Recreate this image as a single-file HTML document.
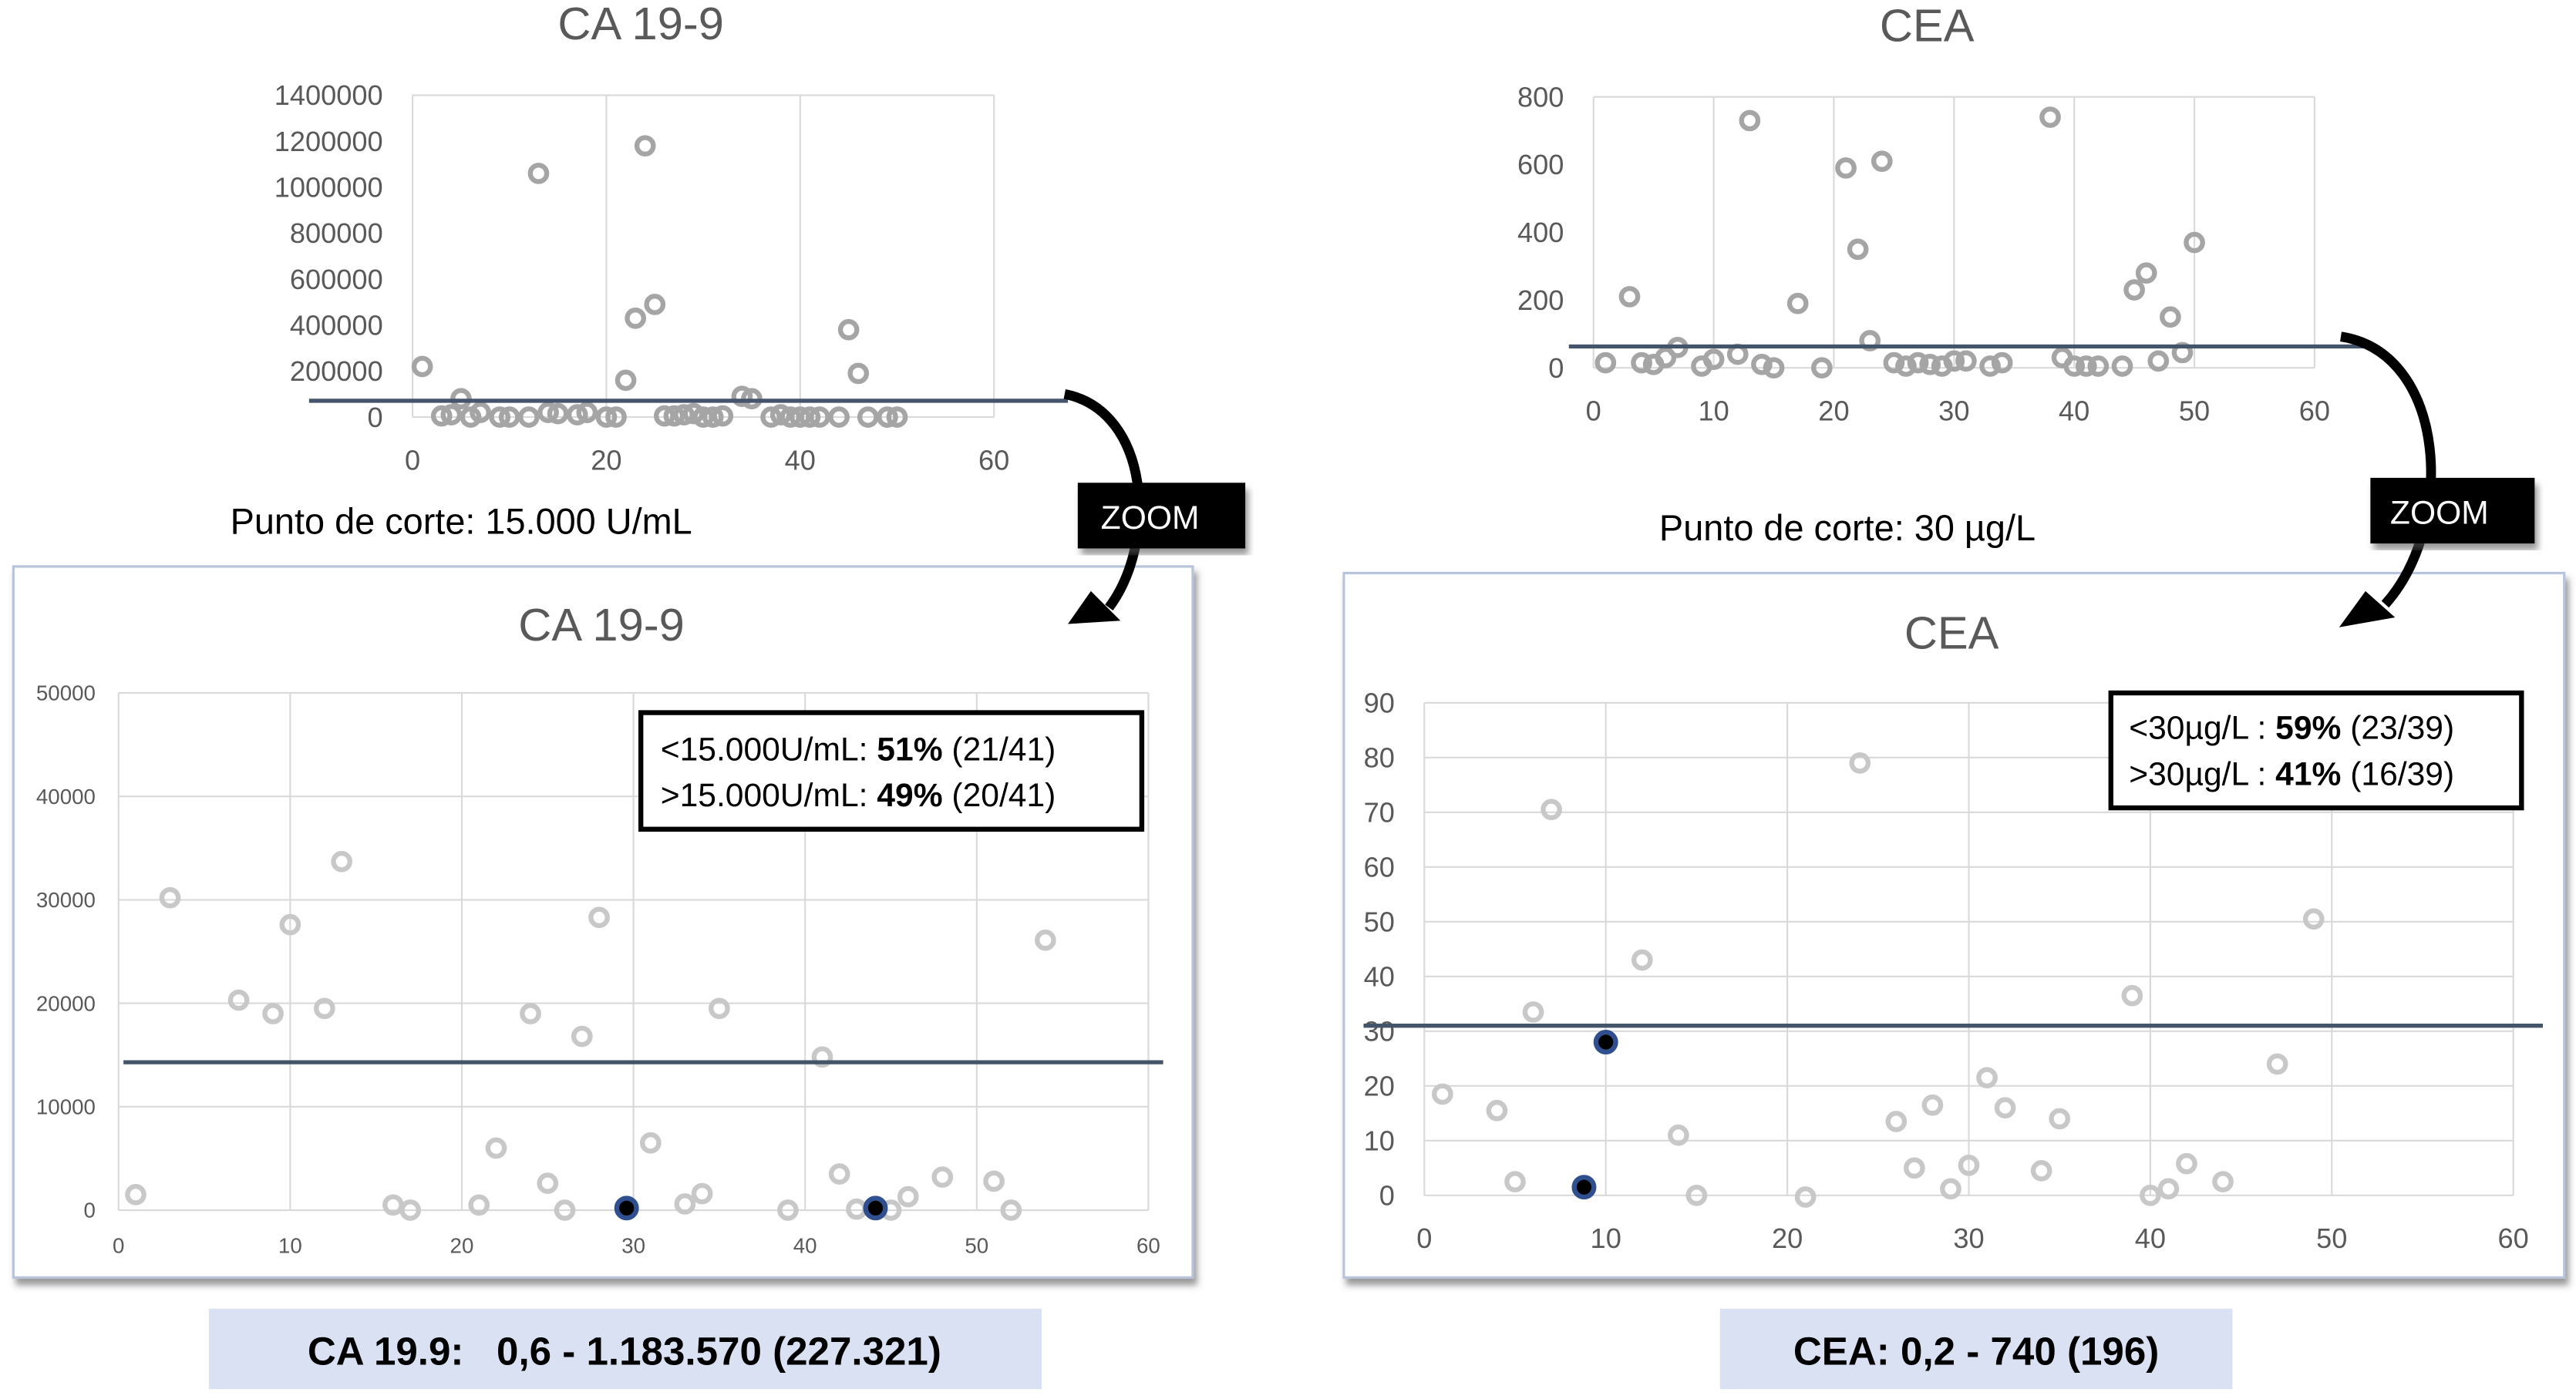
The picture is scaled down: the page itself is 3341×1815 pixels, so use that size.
<!DOCTYPE html>
<html><head><meta charset="utf-8"><style>
html,body{margin:0;padding:0;background:#fff}
svg{display:block}
text{font-family:"Liberation Sans","DejaVu Sans",sans-serif}
</style></head><body>
<svg id="s" width="3341" height="1815" viewBox="0 0 1568 852" xmlns="http://www.w3.org/2000/svg">
<defs>
<filter id="sh" x="-5%" y="-5%" width="110%" height="115%"><feDropShadow dx="2" dy="4" stdDeviation="2" flood-color="#555" flood-opacity="0.6"/></filter>
</defs>
<!-- frames -->
<rect x="8" y="345" width="718" height="433" fill="#fff" stroke="#b8c4dc" stroke-width="1.5" filter="url(#sh)"/>
<rect x="818" y="349" width="743" height="429" fill="#fff" stroke="#b8c4dc" stroke-width="1.5" filter="url(#sh)"/>
<g id="c1"></g>
<g id="c2"></g>
<g id="c3"></g>
<g id="c4"></g>
<text x="390" y="24" text-anchor="middle" font-size="28" fill="#595959">CA 19-9</text>
<text x="1173" y="25" text-anchor="middle" font-size="28" fill="#595959">CEA</text>
<text x="366" y="390" text-anchor="middle" font-size="28" fill="#595959">CA 19-9</text>
<text x="1188" y="395" text-anchor="middle" font-size="28" fill="#595959">CEA</text>
<text x="140" y="325" font-size="22" fill="#000">Punto de corte: 15.000 U/mL</text>
<text x="1010" y="329" font-size="22" fill="#000">Punto de corte: 30 µg/L</text>
<!-- arrows -->
<path d="M648,240 C700,250 705,330 675,370" fill="none" stroke="#000" stroke-width="6"/>
<polygon points="650,380 664,360 682,378" fill="#000"/>
<path d="M1425,205 C1490,215 1495,320 1452,368" fill="none" stroke="#000" stroke-width="6"/>
<polygon points="1424,382 1440,360 1458,376" fill="#000"/>
<rect x="656" y="294" width="102" height="40" fill="#000" filter="url(#sh)"/>
<text x="700" y="322" text-anchor="middle" font-size="20" fill="#fff">ZOOM</text>
<rect x="1443" y="291" width="100" height="40" fill="#000" filter="url(#sh)"/>
<text x="1485" y="319" text-anchor="middle" font-size="20" fill="#fff">ZOOM</text>
<!-- legend boxes -->
<rect x="390" y="434" width="305" height="71" fill="#fff" stroke="#000" stroke-width="3"/>
<text x="402" y="463" font-size="20">&lt;15.000U/mL: <tspan font-weight="bold">51%</tspan> (21/41)</text>
<text x="402" y="491" font-size="20">&gt;15.000U/mL: <tspan font-weight="bold">49%</tspan> (20/41)</text>
<rect x="1285" y="422" width="250" height="70" fill="#fff" stroke="#000" stroke-width="3"/>
<text x="1296" y="450" font-size="20">&lt;30µg/L : <tspan font-weight="bold">59%</tspan> (23/39)</text>
<text x="1296" y="478" font-size="20">&gt;30µg/L : <tspan font-weight="bold">41%</tspan> (16/39)</text>
<rect x="127" y="797" width="507" height="49" fill="#d9e1f2"/>
<text x="380" y="831" text-anchor="middle" font-size="24" font-weight="bold" xml:space="preserve">CA 19.9:   0,6 - 1.183.570 (227.321)</text>
<rect x="1047" y="797" width="312" height="49" fill="#d9e1f2"/>
<text x="1203" y="831" text-anchor="middle" font-size="24" font-weight="bold">CEA:  0,2 - 740 (196)</text>
</svg>
<script>
const ns="http://www.w3.org/2000/svg";
// CA 19-9 overview data
const ca1X=[1,3,4,5,6,7,9,10,12,13,14,15,17,18,20,21,22,23,24,25,26,27,28,29,30,31,32,34,35,37,38,39,40,41,42,44,45,46,47,49,50];
const ca1Y=[220000,5000,10000,80000,0,20000,0,0,0,1060000,20000,15000,10000,20000,0,0,160000,430000,1180000,490000,5000,5000,10000,15000,0,0,5000,90000,80000,0,10000,0,0,0,0,0,380000,190000,0,0,0];
const ca1Ticks=[0,200000,400000,600000,800000,1000000,1200000,1400000];
const ca1Cut=[71000];
// CEA overview data
const ce1X=[1,3,4,5,6,7,9,10,12,13,14,15,17,19,21,22,23,24,25,26,27,28,29,30,31,33,34,38,39,40,41,42,44,45,46,47,48,49,50];
const ce1Y=[15,210,15,10,30,60,5,25,40,730,10,0,190,0,590,350,80,610,15,5,15,10,5,20,20,5,15,740,30,5,5,5,5,230,280,20,150,45,370];
const ce1Ticks=[0,200,400,600,800];
const ce1Cut=[63];
// CA 19-9 zoom data
const ca2X=[1,3,7,9,10,12,13,16,17,21,22,24,25,26,27,28,31,33,34,35,39,41,42,43,45,46,48,51,52,54];
const ca2Y=[1500,30200,20300,19000,27600,19500,33700,500,0,500,6000,19000,2600,0,16800,28300,6500,600,1600,19500,0,14800,3500,100,0,1300,3200,2800,0,26100];
const ca2HX=[29.6,44.1];
const ca2HY=[200,200];
const ca2Ticks=[0,10000,20000,30000,40000,50000];
const ca2Cut=[14300];
// CEA zoom data
const ce2X=[1,4,5,6,7,12,14,15,21,24,26,27,28,29,30,31,32,34,35,39,40,41,42,44,47,49];
const ce2Y=[18.5,15.5,2.5,33.5,70.5,43,11,0,-0.3,79,13.5,5,16.5,1.2,5.5,21.5,16,4.5,14,36.5,0,1.2,5.8,2.5,24,50.5];
const ce2HX=[8.8,10];
const ce2HY=[1.5,28];
const ce2Ticks=[0,10,20,30,40,50,60,70,80,90];
const xTicks=[0,10,20,30,40,50,60];
const xTicksTop=[0,20,40,60];
const xTicksTop2=[0,10,20,30,40,50,60];
const ce2Cut=[31];

function mk(tag,attrs,parent){const e=document.createElementNS(ns,tag);for(const k in attrs)e.setAttribute(k,attrs[k]);parent.appendChild(e);return e;}

function chart(g,cfg){
  const sx=v=>cfg.x0+(v-cfg.xmin)/(cfg.xmax-cfg.xmin)*(cfg.x1-cfg.x0);
  const sy=v=>cfg.y0-(v-cfg.ymin)/(cfg.ymax-cfg.ymin)*(cfg.y0-cfg.y1);
  cfg.yt.forEach(t=>{
    if(cfg.hgrid||t===cfg.ymin||t===cfg.ymax){const l=mk('line',{x1:cfg.x0,x2:cfg.x1,y1:sy(t),y2:sy(t),stroke:'#d9d9d9','stroke-width':1},g);
    
    }
    const tx=mk('text',{x:cfg.x0-cfg.ylOff,y:sy(t)+cfg.fs*0.35,'text-anchor':'end','font-size':cfg.fs,fill:'#595959'},g);
    tx.textContent=t;
    
    
  });
  cfg.xt.forEach(t=>{
    const l=mk('line',{x1:sx(t),x2:sx(t),y1:cfg.y0,y2:cfg.y1,stroke:'#d9d9d9','stroke-width':1},g);
    
    
    const tx=mk('text',{x:sx(t),y:cfg.y0+cfg.xlOff,'text-anchor':'middle','font-size':cfg.fs,fill:'#595959'},g);
    tx.textContent=t;
    
    
  });
  cfg.X.forEach((x,i)=>{
    const c=mk('circle',{cx:sx(x),cy:sy(cfg.Y[i]),r:cfg.r,fill:'none',stroke:cfg.col,'stroke-width':cfg.sw},g);
    
    
  });
  if(cfg.HX) cfg.HX.forEach((x,i)=>{
    const c=mk('circle',{cx:sx(x),cy:sy(cfg.HY[i]),r:cfg.r+1,fill:'#000',stroke:'#2f4f8f','stroke-width':3},g);
    
    
  });
  const cl=mk('line',{x1:cfg.cx0,x2:cfg.cx1,y1:sy(cfg.cut[0]),y2:sy(cfg.cut[0]),stroke:'#44546a','stroke-width':2.5},g);
  
  
}
chart(document.getElementById('c1'),{x0:251,x1:605,y0:254,y1:58,xmin:0,xmax:60,ymin:0,ymax:1400000,xt:xTicksTop,yt:ca1Ticks,X:ca1X,Y:ca1Y,cut:ca1Cut,cx0:188,cx1:650,fs:17,ylOff:18,xlOff:32,r:5,sw:3,col:'#a5a5a5',hgrid:false});
chart(document.getElementById('c2'),{x0:970,x1:1409,y0:224,y1:59,xmin:0,xmax:60,ymin:0,ymax:800,xt:xTicksTop2,yt:ce1Ticks,X:ce1X,Y:ce1Y,cut:ce1Cut,cx0:955,cx1:1440,fs:17,ylOff:18,xlOff:32,r:5,sw:3,col:'#a5a5a5',hgrid:false});
chart(document.getElementById('c3'),{x0:72,x1:699,y0:737,y1:422,xmin:0,xmax:60,ymin:0,ymax:50000,xt:xTicks,yt:ca2Ticks,X:ca2X,Y:ca2Y,HX:ca2HX,HY:ca2HY,cut:ca2Cut,cx0:75,cx1:708,fs:13,ylOff:14,xlOff:26,r:5,sw:3,col:'#c8c8c8',hgrid:true});
chart(document.getElementById('c4'),{x0:867,x1:1530,y0:728,y1:428,xmin:0,xmax:60,ymin:0,ymax:90,xt:xTicks,yt:ce2Ticks,X:ce2X,Y:ce2Y,HX:ce2HX,HY:ce2HY,cut:ce2Cut,cx0:830,cx1:1548,fs:17,ylOff:18,xlOff:32,r:5,sw:3,col:'#c8c8c8',hgrid:true});
</script>
</body></html>
